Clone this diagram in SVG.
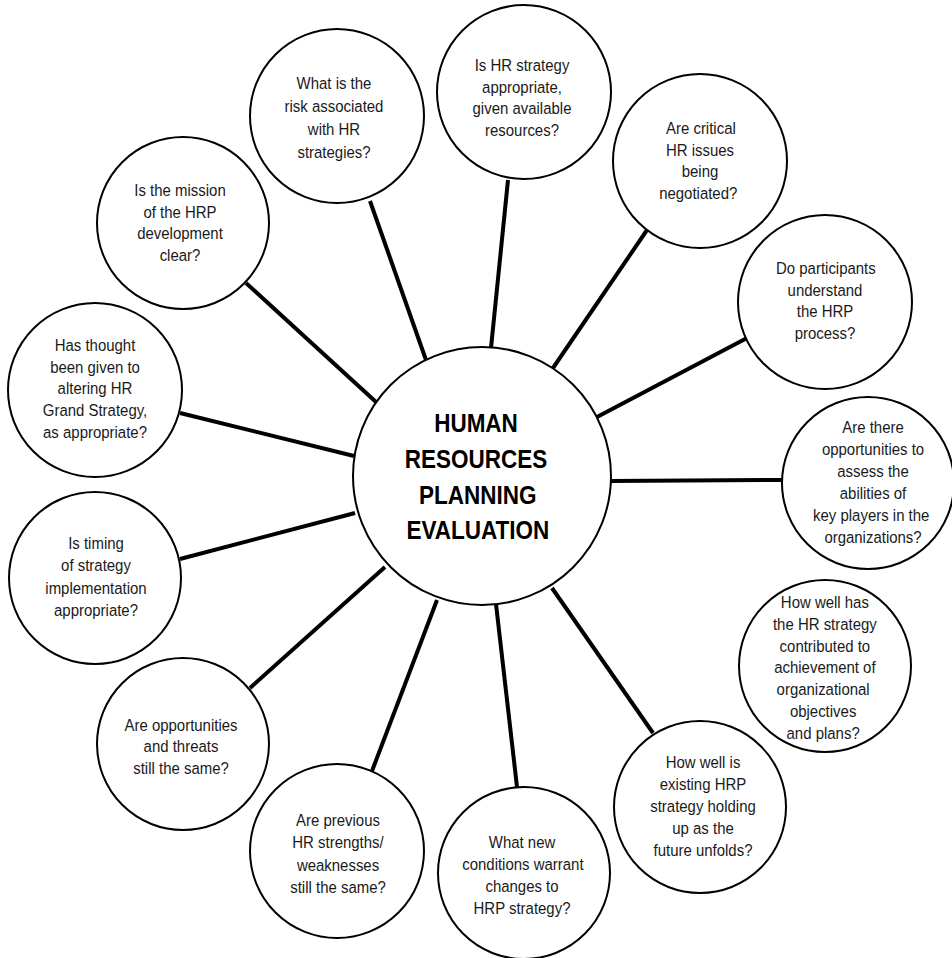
<svg xmlns="http://www.w3.org/2000/svg" width="952" height="958" viewBox="0 0 952 958">
<style>
.bg{fill:#ffffff}
.node{fill:#ffffff;stroke:#000000;stroke-width:2}
.conn{stroke:#000000;stroke-width:4;stroke-linecap:butt;fill:none}
.t{font-family:"Liberation Sans",Arial,Helvetica,sans-serif;font-size:17px;fill:#1a1a1a;text-anchor:middle}
.ct{font-family:"Liberation Sans",Arial,Helvetica,sans-serif;font-size:25px;font-weight:bold;fill:#000000;text-anchor:middle}
</style>
<rect class="bg" x="0" y="0" width="952" height="958"/>
<g id="connectors">
<line class="conn" x1="370" y1="201" x2="426" y2="360"/>
<line class="conn" x1="508" y1="180" x2="491" y2="348"/>
<line class="conn" x1="647" y1="230" x2="553" y2="368"/>
<line class="conn" x1="747" y1="338" x2="597" y2="417"/>
<line class="conn" x1="783" y1="480" x2="610" y2="481"/>
<line class="conn" x1="653" y1="733" x2="552" y2="588"/>
<line class="conn" x1="517" y1="787" x2="496" y2="604"/>
<line class="conn" x1="372" y1="771" x2="437" y2="600"/>
<line class="conn" x1="250" y1="688" x2="385" y2="567"/>
<line class="conn" x1="180" y1="559" x2="355" y2="513"/>
<line class="conn" x1="180" y1="413" x2="354" y2="456"/>
<line class="conn" x1="246" y1="283" x2="376" y2="402"/>
</g>
<g id="center">
<circle class="node" cx="482" cy="476" r="129"/>
<g transform="translate(476 0) scale(0.9 1)">
<text class="ct" x="0" y="432">HUMAN</text>
<text class="ct" x="0" y="468">RESOURCES</text>
<text class="ct" x="2" y="504">PLANNING</text>
<text class="ct" x="2" y="539">EVALUATION</text>
</g>
</g>
<g id="n-risk">
<circle class="node" cx="337" cy="116" r="87"/>
<text class="t" transform="translate(334 0) scale(0.88 1)" y="89"><tspan x="0">What is the</tspan><tspan x="0" dy="23">risk associated</tspan><tspan x="0" dy="23">with HR</tspan><tspan x="0" dy="23">strategies?</tspan></text>
</g>
<g id="n-resources">
<circle class="node" cx="524" cy="92" r="87"/>
<text class="t" transform="translate(522 0) scale(0.88 1)" y="71"><tspan x="0">Is HR strategy</tspan><tspan x="0" dy="21.7">appropriate,</tspan><tspan x="0" dy="21.7">given available</tspan><tspan x="0" dy="21.7">resources?</tspan></text>
</g>
<g id="n-critical">
<circle class="node" cx="700" cy="161" r="87"/>
<text class="t" transform="translate(700 0) scale(0.88 1)" y="134"><tspan x="1">Are critical</tspan><tspan x="0" dy="21.7">HR issues</tspan><tspan x="0" dy="21.7">being</tspan><tspan x="-2" dy="21.7">negotiated?</tspan></text>
</g>
<g id="n-participants">
<circle class="node" cx="825" cy="302" r="87"/>
<text class="t" transform="translate(825 0) scale(0.88 1)" y="274"><tspan x="1">Do participants</tspan><tspan x="0" dy="21.7">understand</tspan><tspan x="0" dy="21.7">the HRP</tspan><tspan x="0" dy="21.7">process?</tspan></text>
</g>
<g id="n-keyplayers">
<circle class="node" cx="868" cy="483" r="86"/>
<text class="t" transform="translate(873 0) scale(0.88 1)" y="433"><tspan x="0">Are there</tspan><tspan x="0" dy="22">opportunities to</tspan><tspan x="0" dy="22">assess the</tspan><tspan x="0" dy="22">abilities of</tspan><tspan x="-2" dy="22">key players in the</tspan><tspan x="0" dy="22">organizations?</tspan></text>
</g>
<g id="n-contributed">
<circle class="node" cx="825" cy="666" r="86"/>
<text class="t" transform="translate(824 0) scale(0.88 1)" y="608"><tspan x="1">How well has</tspan><tspan x="1" dy="21.8">the HR strategy</tspan><tspan x="1" dy="21.8">contributed to</tspan><tspan x="1" dy="21.8">achievement of</tspan><tspan x="-1" dy="21.8">organizational</tspan><tspan x="-1" dy="21.8">objectives</tspan><tspan x="-1" dy="21.8">and plans?</tspan></text>
</g>
<g id="n-holding">
<circle class="node" cx="700" cy="807" r="86"/>
<text class="t" transform="translate(703 0) scale(0.88 1)" y="768"><tspan x="0">How well is</tspan><tspan x="0" dy="22">existing HRP</tspan><tspan x="0" dy="22">strategy holding</tspan><tspan x="0" dy="22">up as the</tspan><tspan x="0" dy="22">future unfolds?</tspan></text>
</g>
<g id="n-conditions">
<circle class="node" cx="524" cy="873" r="86"/>
<text class="t" transform="translate(522 0) scale(0.88 1)" y="848"><tspan x="0">What new</tspan><tspan x="1" dy="22">conditions warrant</tspan><tspan x="0" dy="22">changes to</tspan><tspan x="0" dy="22">HRP strategy?</tspan></text>
</g>
<g id="n-strengths">
<circle class="node" cx="337" cy="851" r="87"/>
<text class="t" transform="translate(338 0) scale(0.88 1)" y="826"><tspan x="0">Are previous</tspan><tspan x="0" dy="22.3">HR strengths/</tspan><tspan x="0" dy="22.3">weaknesses</tspan><tspan x="0" dy="22.3">still the same?</tspan></text>
</g>
<g id="n-threats">
<circle class="node" cx="183" cy="744" r="86"/>
<text class="t" transform="translate(181 0) scale(0.88 1)" y="731"><tspan x="0">Are opportunities</tspan><tspan x="0" dy="21.5">and threats</tspan><tspan x="0" dy="21.5">still the same?</tspan></text>
</g>
<g id="n-timing">
<circle class="node" cx="95" cy="578" r="86"/>
<text class="t" transform="translate(96 0) scale(0.88 1)" y="549"><tspan x="0">Is timing</tspan><tspan x="0" dy="22.3">of strategy</tspan><tspan x="0" dy="22.3">implementation</tspan><tspan x="0" dy="22.3">appropriate?</tspan></text>
</g>
<g id="n-grand">
<circle class="node" cx="95" cy="390" r="87"/>
<text class="t" transform="translate(95 0) scale(0.88 1)" y="351"><tspan x="0">Has thought</tspan><tspan x="0" dy="21.75">been given to</tspan><tspan x="0" dy="21.75">altering HR</tspan><tspan x="0" dy="21.75">Grand Strategy,</tspan><tspan x="0" dy="21.75">as appropriate?</tspan></text>
</g>
<g id="n-mission">
<circle class="node" cx="183" cy="223" r="86"/>
<text class="t" transform="translate(180 0) scale(0.88 1)" y="196"><tspan x="0">Is the mission</tspan><tspan x="0" dy="21.7">of the HRP</tspan><tspan x="0" dy="21.7">development</tspan><tspan x="0" dy="21.7">clear?</tspan></text>
</g>
</svg>
